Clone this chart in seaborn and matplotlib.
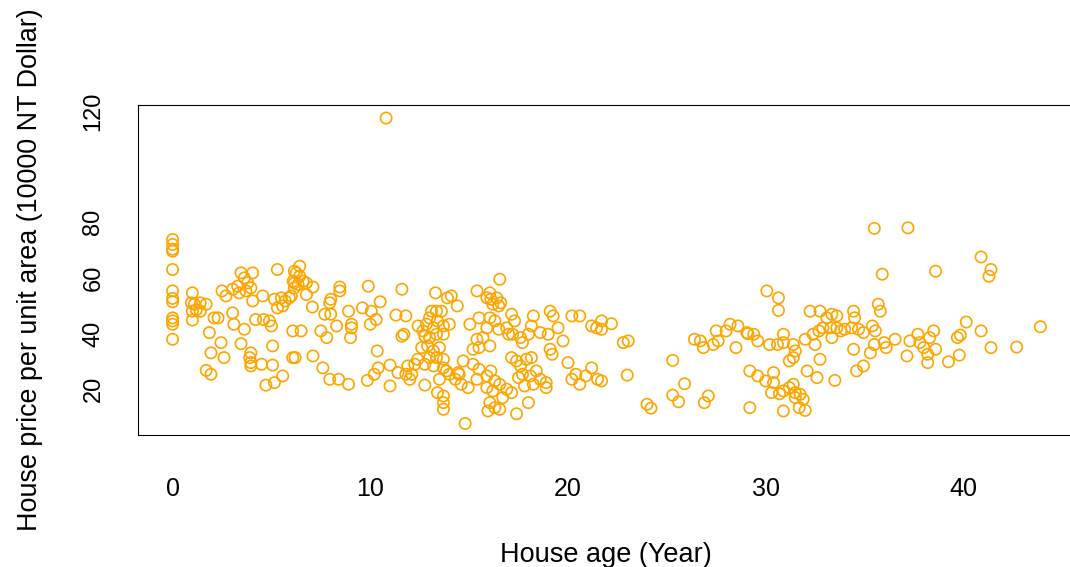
import matplotlib
matplotlib.use("Agg")
import matplotlib.pyplot as plt
import seaborn as sns
import pandas as pd

# House age (years) and price per unit area (10000 NT Dollar), one entry per sale
house_age = [
    0, 0, 0, 0, 0, 0, 0, 0, 0, 0, 0, 0,
    1.0, 0.95, 1.1, 1.4, 1.7, 1.0, 1.2, 1.4, 1.0,
    1.86, 2.1, 2.3, 2.45, 1.94, 2.6, 1.7, 1.94, 2.5, 2.7,
    3.04, 3.29, 3.46, 3.63, 3.8, 4.05, 3.37, 3.71, 3.96, 4.05, 4.56,
    3.04, 3.1, 3.63, 3.46, 4.2, 4.6, 4.9, 5.0,
    3.96, 3.9, 3.96, 3.96, 4.5,
    5.06, 5.06, 5.57, 5.15, 4.72,
    5.3, 5.15, 5.5, 5.7, 6.0, 5.3, 5.57,
    6.16, 6.16, 6.16, 6.08, 6.08,
    6.43, 6.26, 6.43, 6.1, 6.6, 6.35, 6.77, 7.1, 5.9, 6.77, 7.07,
    6.5, 6.2, 7.1, 7.5, 7.8, 7.6, 7.95, 8.4, 8.9,
    8.46, 8.46, 8.0, 7.95, 7.7, 8.0, 8.3, 8.9, 9.05, 9.05, 9.0,
    9.9, 10.5, 9.6, 10.05, 10.3, 10.0,
    10.35, 10.4, 10.2, 9.85, 11.0, 11.0,
    11.6, 11.3, 11.8, 11.6, 11.7,
    11.4, 11.9, 11.8, 12.1, 12.25, 12.4, 12.0, 12.76,
    13.3, 13.9,
    12.42, 12.67, 12.84, 13.1, 13.35, 13.6, 13.0, 13.2, 13.4, 13.7, 12.76, 13.0,
    13.35, 13.7, 12.6, 12.9, 13.2, 13.5, 13.0, 13.35, 13.7, 12.76, 13.2,
    13.5, 13.4, 13.7, 13.7, 13.7,
    14.0, 13.7, 14.0,
    14.1, 14.4,
    15.4, 16.05, 15.9, 16.1, 16.4, 16.2, 16.5, 16.6, 16.55,
    15.04, 15.5, 16.05, 16.3, 15.9, 15.4, 15.7, 16.05, 16.5, 16.9, 17.15, 17.3,
    17.0, 17.2, 17.6, 18.0, 17.7, 18.25, 18.15, 18.6, 19.1, 19.25, 19.0, 19.5,
    19.75, 19.1, 19.2,
    20.2, 20.6, 21.2, 21.45,
    20.0, 20.2, 20.6, 20.9, 21.2, 20.4, 21.5,
    14.7, 14.45, 14.3, 14.6, 14.95, 15.2, 15.5, 15.4, 15.9, 16.1, 16.3, 15.9,
    16.2, 16.55, 16.9, 17.15, 16.7, 16.05, 15.95, 16.3, 16.55, 14.8,
    17.15, 17.4, 17.6, 17.9, 18.15, 17.7, 17.5, 18.1, 18.4, 18.6, 18.25, 17.8,
    18.9, 18.9, 18.0, 17.4, 15.5, 15.2, 14.5, 13.85,
    21.7, 21.7, 22.2,
    22.8, 23.05, 21.7, 23.0,
    24.0, 24.2,
    25.3, 25.3, 25.6, 25.9, 26.9, 27.1,
    26.4, 26.7, 26.85, 27.35, 27.6, 27.5, 28.0, 28.2, 28.6, 29.1, 28.5,
    29.2, 29.2,
    35.5, 35.9, 35.7, 35.8,
    30.06, 30.65, 30.65,
    29.05, 29.4, 29.6, 30.2, 30.6, 30.9, 30.9, 31.4, 31.5, 31.4, 31.2,
    32.0, 32.25, 32.75, 33.1, 33.35, 33.6, 32.4, 32.7, 32.9, 33.3, 33.6, 33.8,
    34.0, 33.35, 32.5, 32.75, 32.1, 32.6, 33.5,
    34.45, 34.5, 34.35, 34.7, 34.95, 35.4, 35.55, 35.5, 36.0, 36.1, 36.55,
    34.45, 35.3, 34.95, 34.6,
    29.6, 30.0, 30.4, 30.4, 30.3, 30.7, 30.9, 31.2, 31.4, 31.5, 31.75, 31.5,
    31.9, 31.7, 32.0, 30.9,
    37.2, 40.9, 41.4, 41.3, 38.6, 40.15, 43.9, 40.9, 41.4, 42.7,
    37.3, 37.7, 37.8, 38.0, 38.3, 38.5, 38.6, 38.2, 38.2, 37.15, 39.25, 39.8,
    39.7, 39.85,
    10.8,
]

price_per_area = [
    73.8, 72.0, 70.3, 69.6, 63.0, 55.3, 52.6, 51.4, 45.6, 44.5, 43.3, 37.9,
    54.6, 51.0, 50.5, 51.0, 50.5, 48.0, 48.5, 48.0, 44.8,
    40.3, 45.6, 45.6, 36.7, 33.0, 31.3, 26.7, 25.3, 55.3, 53.5,
    55.9, 57.0, 61.8, 60.0, 58.2, 61.8, 54.6, 55.3, 56.4, 51.7, 53.5,
    47.4, 43.3, 41.5, 36.3, 45.0, 45.0, 44.5, 42.7,
    33.0, 31.3, 29.5, 28.3, 28.9,
    35.5, 28.6, 24.7, 22.3, 21.4,
    63.0, 52.3, 52.8, 51.7, 53.5, 49.2, 49.9,
    56.4, 58.2, 62.4, 40.9, 31.3,
    64.2, 61.8, 60.6, 58.8, 58.8, 57.6, 58.2, 56.7, 52.8, 54.0, 49.5,
    40.9, 31.3, 31.9, 40.9, 38.5, 27.6, 23.5, 23.5, 21.7,
    56.7, 55.3, 52.3, 51.0, 46.9, 46.9, 42.7, 48.0, 43.3, 42.0, 38.5,
    57.0, 51.4, 49.2, 48.0, 45.0, 43.3,
    33.7, 27.6, 25.3, 23.1, 28.6, 21.1,
    55.9, 46.6, 46.3, 39.0, 39.7,
    25.9, 28.3, 25.3, 25.3, 28.9, 30.7, 23.5, 21.4,
    54.6, 52.8,
    42.7, 40.9, 43.3, 48.0, 48.0, 48.0, 45.6, 42.0, 44.5, 42.7, 39.0, 38.5,
    39.7, 39.7, 34.9, 35.5, 33.7, 34.9, 31.3, 31.3, 30.7, 28.9, 28.3,
    23.5, 18.7, 17.5, 15.1, 12.7,
    43.3, 27.6, 25.3,
    53.5, 49.9,
    55.3, 54.6, 52.8, 52.3, 52.8, 50.5, 49.9, 51.0, 59.5,
    43.3, 45.6, 45.6, 44.5, 42.0, 37.9, 38.5, 35.5, 41.5, 42.0, 46.9, 44.5,
    39.7, 39.7, 38.5, 39.7, 36.7, 46.3, 42.7, 40.3, 48.0, 46.3, 39.7, 42.0,
    37.3, 34.3, 32.5,
    46.3, 46.3, 42.7, 42.0,
    29.5, 23.5, 21.7, 24.7, 27.6, 25.3, 23.5,
    30.1, 25.9, 23.5, 21.7, 20.5, 28.9, 27.1, 23.5, 24.7, 26.5, 22.9, 20.5,
    19.3, 21.7, 19.9, 18.7, 16.9, 15.1, 12.1, 13.3, 12.7, 7.6,
    31.3, 30.1, 28.3, 30.7, 31.3, 25.3, 24.1, 24.7, 26.5, 23.5, 21.7, 21.1,
    22.3, 20.5, 15.1, 11.1, 34.9, 34.3, 25.3, 26.5,
    44.5, 41.5, 43.5,
    36.7, 37.3, 22.9, 25.0,
    14.5, 13.1,
    30.3, 17.8, 15.4, 21.9, 15.1, 17.5,
    37.9, 37.3, 34.9, 36.0, 37.3, 40.9, 40.9, 43.3, 42.7, 39.9, 34.9,
    26.5, 13.3,
    77.8, 61.3, 50.5, 48.0,
    55.3, 52.8, 48.3,
    40.3, 39.7, 37.3, 36.0, 36.0, 39.7, 36.7, 36.0, 33.7, 31.3, 30.1,
    37.9, 48.0, 48.0, 45.6, 46.9, 46.3, 39.7, 40.9, 42.0, 42.0, 42.0, 40.9,
    41.5, 38.5, 36.0, 30.7, 26.5, 24.1, 23.1,
    48.0, 45.6, 42.0, 41.5, 40.3, 42.7, 40.9, 36.0, 36.7, 34.9, 37.9,
    34.3, 33.0, 28.3, 26.5,
    24.7, 22.9, 25.9, 22.3, 18.7, 18.3, 19.3, 20.5, 21.7, 18.7, 18.1, 16.9,
    16.3, 13.3, 12.3, 12.1,
    78.0, 67.5, 63.0, 60.6, 62.4, 44.1, 42.4, 40.9, 34.9, 35.1,
    37.3, 39.7, 36.7, 34.9, 38.5, 40.9, 34.3, 32.5, 29.5, 31.9, 29.8, 32.2,
    38.5, 39.4,
    117.5,
]

x_ticks = [0, 10, 20, 30, 40]
y_ticks = [20, 40, 60, 80, 100, 120]
y_tick_labels = ["20", "40", "60", "80", "", "120"]

sns.set_style("white")
plt.rcParams["font.family"] = ["Liberation Sans", "DejaVu Sans"]

W, H = 1070, 567
fig = plt.figure(figsize=(W / 100, H / 100), dpi=100)
fig.patch.set_facecolor("white")
ax = fig.add_axes([138 / W, (H - 435) / H, 935 / W, 330 / H])

sales = pd.DataFrame({"age": house_age, "price": price_per_area})
sns.scatterplot(
    data=sales, x="age", y="price", ax=ax,
    marker="o", s=66, facecolors="none", edgecolor="#FFA500",
    linewidth=1.2, legend=False,
)
ax.collections[0].set_facecolor("none")

ax.set_xlim(-1.75, 45.55)
ax.set_ylim(3.45, 122.2)

ax.set_xticks(x_ticks)
ax.set_xticklabels([str(t) for t in x_ticks])
ax.set_yticks(y_ticks)
ax.set_yticklabels(y_tick_labels, rotation=90, va="center")

for side in ["left", "right", "top", "bottom"]:
    ax.spines[side].set_color("black")
    ax.spines[side].set_linewidth(0.8)

ax.tick_params(axis="both", which="both", direction="out", length=12.2,
               width=0.8, color="black", labelcolor="black")
ax.tick_params(axis="x", pad=18, labelsize=18)
ax.tick_params(axis="y", pad=12, labelsize=17)

ax.set_xlabel("House age (Year)", fontsize=19.5, color="black")
ax.set_ylabel("House price per unit area (10000 NT Dollar)", fontsize=19.4, color="black")
ax.xaxis.set_label_coords(0.5, -0.325)
ax.yaxis.set_label_coords(-0.102, 0.5)
ax.grid(False)

fig.savefig("out.png", dpi=100)
